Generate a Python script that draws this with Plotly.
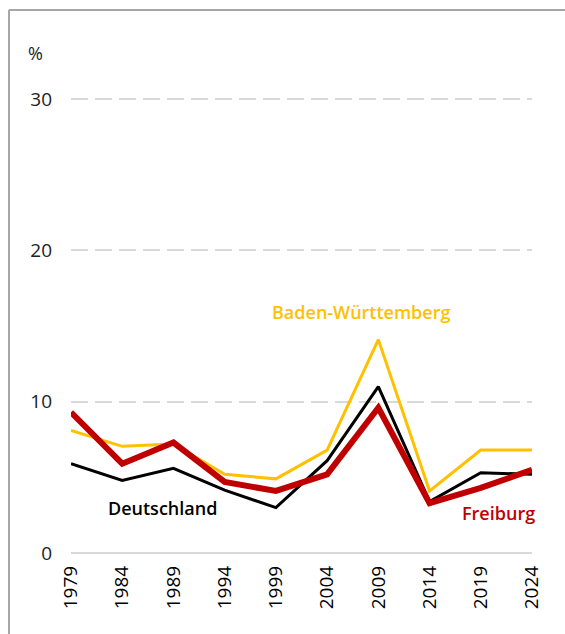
import plotly.graph_objects as go

# ── Data ───────────────────────────────────────────────────────────────────────
years = [1979, 1984, 1989, 1994, 1999, 2004, 2009, 2014, 2019, 2024]
deutschland = [5.9, 4.8, 5.6, 4.15, 3.0, 6.1, 11.0, 3.4, 5.3, 5.2]
baden_wuerttemberg = [8.1, 7.05, 7.2, 5.2, 4.9, 6.8, 14.1, 4.1, 6.8, 6.8]
freiburg = [9.3, 5.9, 7.3, 4.7, 4.1, 5.2, 9.6, 3.3, 4.3, 5.5]
y_ticks = [0, 10, 20, 30]

_COLORS = {
    "de": "#000000",
    "bw": "#FFC000",
    "fr": "#C00000",
    "grid": "#D9D9D9",
    "frame": "#A6A6A6",
}
_FONT = "Open Sans"

fig = go.Figure()
fig.add_trace(go.Scatter(x=years, y=baden_wuerttemberg, mode="lines",
                         line=dict(color=_COLORS["bw"], width=3)))
fig.add_trace(go.Scatter(x=years, y=deutschland, mode="lines",
                         line=dict(color=_COLORS["de"], width=3)))
fig.add_trace(go.Scatter(x=years, y=freiburg, mode="lines",
                         line=dict(color=_COLORS["fr"], width=6)))

# series labels
labels = [
    ("Deutschland", 1987.9, 3.0, _COLORS["de"]),
    ("Baden-Württemberg", 2007.3, 15.95, _COLORS["bw"]),
    ("Freiburg", 2020.7, 2.66, _COLORS["fr"]),
]
for txt, lx, ly, col in labels:
    fig.add_annotation(x=lx, y=ly, text=txt, showarrow=False,
                       xanchor="center", yanchor="middle",
                       font=dict(color=col, size=18, family=_FONT, weight=600))

# plot area is 457 px high for 0..30.2
fig.add_annotation(x=-0.078, y=1.094, xref="paper", yref="paper", text="%",
                   showarrow=False, xanchor="center", yanchor="middle",
                   font=dict(size=18, family=_FONT, color="#222"))

# outer frame: only left + top edges are visible, it runs off the page
_frame = dict(color=_COLORS["frame"], width=2)
fig.add_shape(type="line", xref="paper", yref="paper",
              x0=-0.1345, x1=-0.1345, y0=-0.18, y1=1.188, line=_frame)
fig.add_shape(type="line", xref="paper", yref="paper",
              x0=-0.1345, x1=1.072, y0=1.188, y1=1.188, line=_frame)

fig.update_layout(
    width=565, height=634,
    paper_bgcolor="white", plot_bgcolor="white",
    showlegend=False,
    margin=dict(l=71, r=33, t=96, b=81),
    font=dict(family=_FONT, size=18, color="#222"),
)
fig.update_xaxes(range=[1979, 2024], tickvals=years, tickangle=-90,
                 showgrid=False, zeroline=False, showline=False,
                 ticks="", ticklabelstandoff=8,
                 tickfont=dict(size=19, color="#000"))
fig.update_yaxes(range=[0, 30.2], tickvals=y_ticks,
                 showgrid=True, gridcolor=_COLORS["grid"], gridwidth=2,
                 griddash="17px,7px",
                 zeroline=True, zerolinecolor=_COLORS["grid"], zerolinewidth=2,
                 showline=False, ticks="", ticklabelstandoff=18,
                 tickfont=dict(size=19, color="#222"))

# drop the browser's default 8px body margin so the figure fills the window
fig.write_html("out.html", config={"displayModeBar": False},
               post_script="document.body.style.margin='0';"
                           "document.body.style.overflow='hidden';")
